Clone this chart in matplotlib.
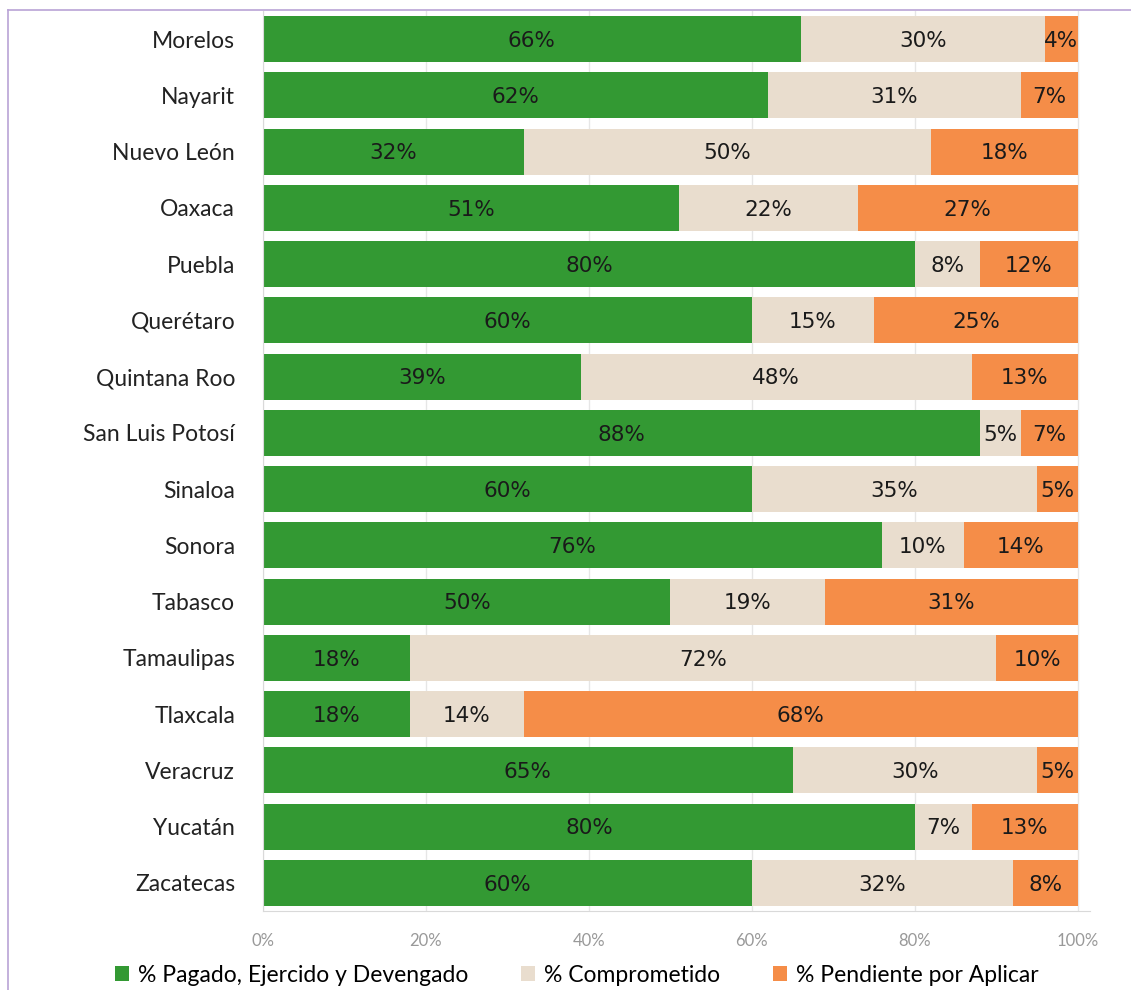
import matplotlib.pyplot as plt
import numpy as np
from matplotlib.lines import Line2D
from matplotlib.patches import Patch

# Data
states = ["Morelos", "Nayarit", "Nuevo León", "Oaxaca", "Puebla", "Querétaro",
          "Quintana Roo", "San Luis Potosí", "Sinaloa", "Sonora", "Tabasco",
          "Tamaulipas", "Tlaxcala", "Veracruz", "Yucatán", "Zacatecas"]
pagado = [66, 62, 32, 51, 80, 60, 39, 88, 60, 76, 50, 18, 18, 65, 80, 60]
comprometido = [30, 31, 50, 22, 8, 15, 48, 5, 35, 10, 19, 72, 14, 30, 7, 32]
pendiente = [4, 7, 18, 27, 12, 25, 13, 7, 5, 14, 31, 10, 68, 5, 13, 8]

series_names = ["% Pagado, Ejercido y Devengado", "% Comprometido", "% Pendiente por Aplicar"]
colors = ["#339933", "#e9ddce", "#f58d48"]

fig = plt.figure(figsize=(11.31, 9.9), dpi=100)
ax = fig.add_axes([263 / 1131, 1 - 911 / 990, (1090 - 263) / 1131, 900 / 990])

y = np.arange(len(states))
left = np.zeros(len(states))
for vals, color in zip([pagado, comprometido, pendiente], colors):
    v = np.array(vals) / 100
    ax.barh(y, v, left=left, height=0.82, color=color, zorder=2)
    for yi, l, w, val in zip(y, left, v, vals):
        ax.text(l + w / 2, yi + 0.03, f"{val}%", ha="center", va="center",
                fontsize=15.5, color="#1a1a1a", zorder=3)
    left += v

ax.set_ylim(len(states) - 0.5, -0.5)
ax.set_xlim(0, 1.015)
ax.set_yticks(y)
ax.set_yticklabels(states, fontsize=16.5, family="Lato", color="#222222")
ax.set_xticks(np.arange(0, 1.01, 0.2))
ax.set_xticklabels([f"{int(t * 100)}%" for t in np.arange(0, 1.01, 0.2)],
                   fontsize=12, family="Lato", color="#999999")
ax.tick_params(axis="y", length=0, pad=20)
ax.tick_params(axis="x", length=0, pad=16)
ax.grid(axis="x", color="#e6e6e6", linewidth=1, zorder=0)
for s in ["top", "right"]:
    ax.spines[s].set_visible(False)
ax.spines["left"].set_color("#d9d9d9")
ax.spines["bottom"].set_color("#d9d9d9")

handles = [Patch(facecolor=c, edgecolor="none") for c in colors]
fig.legend(handles, series_names, loc="center", bbox_to_anchor=(0.51, 1 - 975 / 990),
           ncol=3, frameon=False, prop={"family": "Lato", "size": 16.5},
           handlelength=0.6, handleheight=0.6, handletextpad=0.4, columnspacing=2.3)

# purple frame on left and top
fig.add_artist(Line2D([8 / 1131, 8 / 1131], [0, 1 - 10 / 990], color="#b9a3d6", linewidth=1.2))
fig.add_artist(Line2D([8 / 1131, 1], [1 - 10 / 990, 1 - 10 / 990], color="#b9a3d6", linewidth=1.2))

fig.savefig("out.png", dpi=100)
